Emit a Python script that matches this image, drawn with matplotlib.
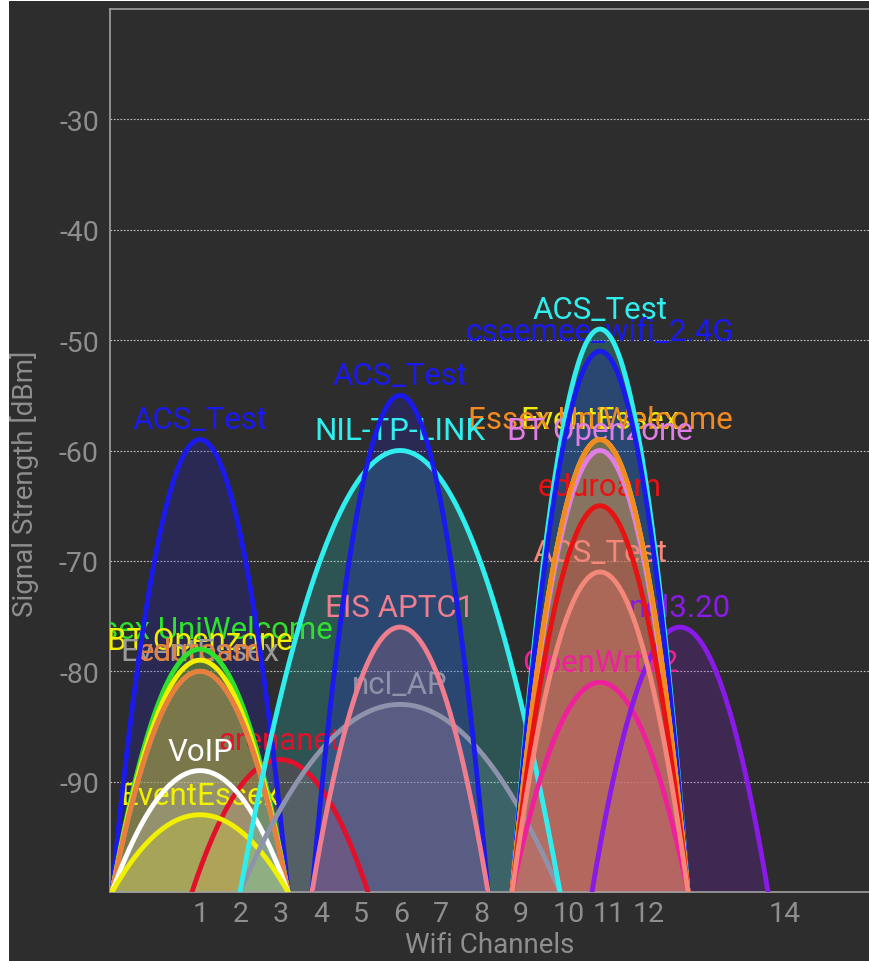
import matplotlib.pyplot as plt
import matplotlib.transforms as mtransforms
from matplotlib.patches import Rectangle
import numpy as np

plt.rcParams['font.family'] = ['Roboto', 'DejaVu Sans']

# one entry per access point, in drawing order
ssids = ['arenanet', 'ACS_Test', 'Essex UniWelcome', 'BT Openzone', 'EventEssex', 'eduroam',
         'VoIP', 'EventEssex', 'ncl_AP', 'NIL-TP-LINK', 'ACS_Test', 'EIS APTC1',
         'OpenWrt12', 'ncl3.20', 'ACS_Test', 'cseemee_wifi_2.4G', 'BT Openzone', 'EventEssex',
         'Essex UniWelcome', 'eduroam', 'ACS_Test']
channels = [3, 1, 1, 1, 1, 1,
            1, 1, 6, 6, 6, 6,
            11, 13, 11, 11, 11, 11,
            11, 11, 11]
widths = [20, 20, 20, 20, 20, 20,
          20, 20, 40, 40, 20, 20,
          20, 20, 20, 20, 20, 20,
          20, 20, 20]
levels = [-88, -59, -78, -79, -80, -80,
          -89, -93, -83, -60, -55, -76,
          -81, -76, -49, -51, -60, -59,
          -59, -65, -71]
colors = ['#e3102c', '#1a1aee', '#2fe02f', '#f2f000', '#9a9a9a', '#e8803c',
          '#ffffff', '#f0f000', '#8e93ab', '#30eeee', '#1a1aee', '#ee7d8e',
          '#f0209c', '#8a1ae8', '#30eeee', '#1a1aee', '#e07de6', '#ecec10',
          '#f28a22', '#e81212', '#f4877a']

tick_channels = [1, 2, 3, 4, 5, 6, 7, 8, 9, 10, 11, 12, 14]
y_ticks = [-90, -80, -70, -60, -50, -40, -30]


def chan_freq(ch):
    if ch == 14:
        return 2484
    return 2412 + 5 * (ch - 1)


bg = '#2d2d2d'
txt_col = '#8e8e8e'

fig = plt.figure(figsize=(8.7, 9.62), dpi=100)
fig.patch.set_facecolor('white')
fig.patches.append(Rectangle((9 / 870, 0), 1, 1 - 2 / 962, transform=fig.transFigure,
                             facecolor=bg, edgecolor='none', zorder=-10))

ax = fig.add_axes([110 / 870, 69 / 962, 1 - 110 / 870, 883 / 962])
ax.set_facecolor(bg)

# names of stronger networks go underneath the weaker ones
text_rank = np.argsort(np.argsort(-np.array(levels), kind='stable'))

for i in range(len(ssids)):
    c = chan_freq(channels[i])
    half = 11 if widths[i] == 20 else 20
    xs = np.linspace(c - half, c + half, 300)
    ys = -100 + (levels[i] + 100) * (1 - ((xs - c) / half) ** 2)
    ax.fill_between(xs, ys, -100, color=colors[i], alpha=0.2, lw=0, zorder=1 + 0.01 * i)
    ax.text(c, levels[i] + 1, ssids[i], color=colors[i], fontsize=22.5, ha='center',
            va='baseline', clip_on=True, zorder=3 + 0.01 * text_rank[i])
    ax.plot(xs, ys, color=colors[i], lw=3.5, zorder=5 + 0.01 * i)

ax.set_xlim(2400.75, 2495.75)
ax.set_ylim(-100, -20)

ax.set_yticks(y_ticks)
ax.set_yticklabels([str(v) for v in y_ticks])
ax.set_xticks([chan_freq(ch) for ch in tick_channels])
ax.set_xticklabels([str(ch) for ch in tick_channels])
ax.tick_params(length=0, labelcolor=txt_col, labelsize=20.5)
ax.tick_params(axis='y', pad=8)
ax.tick_params(axis='x', pad=6)
offset = mtransforms.ScaledTranslation(-7 / 100, 0, fig.dpi_scale_trans)
for lab in ax.get_xticklabels():
    lab.set_horizontalalignment('left')
    lab.set_transform(lab.get_transform() + offset)

ax.yaxis.grid(True, color='#c4c4c4', linestyle=(0, (1.5, 1.5)), linewidth=0.8)
ax.set_axisbelow(True)

for s in ['left', 'top', 'bottom']:
    ax.spines[s].set_color('#a0a0a0')
    ax.spines[s].set_linewidth(1.2)
ax.spines['right'].set_visible(False)

ax.set_xlabel('Wifi Channels', color=txt_col, fontsize=20)
ax.set_ylabel('Signal Strength [dBm]', color=txt_col, fontsize=20)
ax.xaxis.label.set_va('center')
ax.yaxis.label.set_va('center')
ax.xaxis.set_label_coords(0.5, -0.06)
ax.yaxis.set_label_coords(-0.112, 0.463)

fig.savefig('out.png', dpi=100, facecolor=fig.get_facecolor())
